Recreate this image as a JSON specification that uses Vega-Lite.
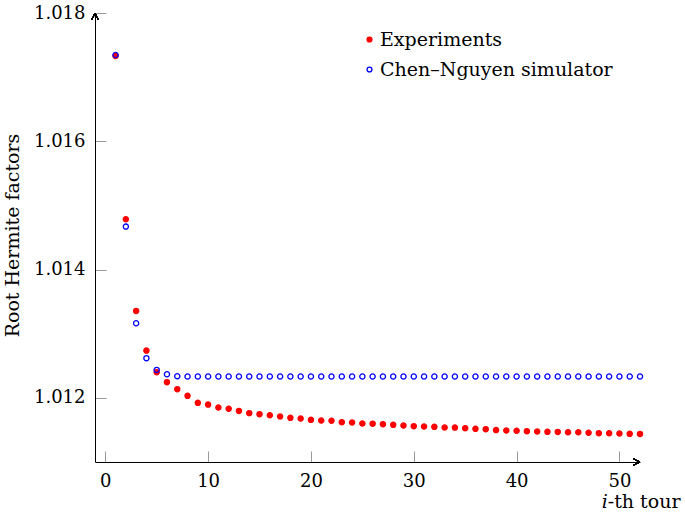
{
  "$schema": "https://vega.github.io/schema/vega-lite/v6.json",
  "width": 545,
  "height": 449,
  "autosize": "none",
  "padding": {"left": 95, "top": 13, "right": 45, "bottom": 53},
  "background": "white",
  "config": {
    "view": {"stroke": null},
    "font": "DejaVu Serif",
    "axis": {
      "labelFont": "DejaVu Serif",
      "titleFont": "DejaVu Serif",
      "labelColor": "black",
      "titleColor": "black",
      "titleFontWeight": "normal",
      "domainColor": "black",
      "domainWidth": 1,
      "tickColor": "#9a9a9a",
      "tickWidth": 1,
      "tickSize": -11,
      "grid": false
    },
    "legend": {
      "labelFont": "DejaVu Serif",
      "labelColor": "black"
    }
  },
  "data": {
    "values": [
      {"i": 1, "series": "Experiments", "v": 1.01733},
      {"i": 2, "series": "Experiments", "v": 1.014785},
      {"i": 3, "series": "Experiments", "v": 1.013356},
      {"i": 4, "series": "Experiments", "v": 1.012737},
      {"i": 5, "series": "Experiments", "v": 1.0124},
      {"i": 6, "series": "Experiments", "v": 1.012245},
      {"i": 7, "series": "Experiments", "v": 1.012136},
      {"i": 8, "series": "Experiments", "v": 1.012031},
      {"i": 9, "series": "Experiments", "v": 1.011922},
      {"i": 10, "series": "Experiments", "v": 1.011895},
      {"i": 11, "series": "Experiments", "v": 1.011849},
      {"i": 12, "series": "Experiments", "v": 1.011829},
      {"i": 13, "series": "Experiments", "v": 1.011797},
      {"i": 14, "series": "Experiments", "v": 1.011762},
      {"i": 15, "series": "Experiments", "v": 1.011746},
      {"i": 16, "series": "Experiments", "v": 1.01173},
      {"i": 17, "series": "Experiments", "v": 1.011709},
      {"i": 18, "series": "Experiments", "v": 1.011688},
      {"i": 19, "series": "Experiments", "v": 1.011677},
      {"i": 20, "series": "Experiments", "v": 1.011657},
      {"i": 21, "series": "Experiments", "v": 1.011646},
      {"i": 22, "series": "Experiments", "v": 1.011642},
      {"i": 23, "series": "Experiments", "v": 1.011621},
      {"i": 24, "series": "Experiments", "v": 1.011615},
      {"i": 25, "series": "Experiments", "v": 1.0116},
      {"i": 26, "series": "Experiments", "v": 1.011598},
      {"i": 27, "series": "Experiments", "v": 1.01159},
      {"i": 28, "series": "Experiments", "v": 1.011579},
      {"i": 29, "series": "Experiments", "v": 1.011568},
      {"i": 30, "series": "Experiments", "v": 1.011559},
      {"i": 31, "series": "Experiments", "v": 1.011553},
      {"i": 32, "series": "Experiments", "v": 1.011548},
      {"i": 33, "series": "Experiments", "v": 1.011538},
      {"i": 34, "series": "Experiments", "v": 1.011536},
      {"i": 35, "series": "Experiments", "v": 1.011528},
      {"i": 36, "series": "Experiments", "v": 1.011517},
      {"i": 37, "series": "Experiments", "v": 1.011512},
      {"i": 38, "series": "Experiments", "v": 1.011497},
      {"i": 39, "series": "Experiments", "v": 1.01149},
      {"i": 40, "series": "Experiments", "v": 1.011486},
      {"i": 41, "series": "Experiments", "v": 1.011481},
      {"i": 42, "series": "Experiments", "v": 1.011475},
      {"i": 43, "series": "Experiments", "v": 1.01147},
      {"i": 44, "series": "Experiments", "v": 1.011469},
      {"i": 45, "series": "Experiments", "v": 1.011465},
      {"i": 46, "series": "Experiments", "v": 1.011463},
      {"i": 47, "series": "Experiments", "v": 1.011455},
      {"i": 48, "series": "Experiments", "v": 1.01145},
      {"i": 49, "series": "Experiments", "v": 1.011449},
      {"i": 50, "series": "Experiments", "v": 1.011444},
      {"i": 51, "series": "Experiments", "v": 1.011439},
      {"i": 52, "series": "Experiments", "v": 1.011438},
      {"i": 1, "series": "Chen–Nguyen simulator", "v": 1.017345},
      {"i": 2, "series": "Chen–Nguyen simulator", "v": 1.01467},
      {"i": 3, "series": "Chen–Nguyen simulator", "v": 1.013164},
      {"i": 4, "series": "Chen–Nguyen simulator", "v": 1.012619},
      {"i": 5, "series": "Chen–Nguyen simulator", "v": 1.012436},
      {"i": 6, "series": "Chen–Nguyen simulator", "v": 1.012369},
      {"i": 7, "series": "Chen–Nguyen simulator", "v": 1.012338},
      {"i": 8, "series": "Chen–Nguyen simulator", "v": 1.012332},
      {"i": 9, "series": "Chen–Nguyen simulator", "v": 1.012332},
      {"i": 10, "series": "Chen–Nguyen simulator", "v": 1.012332},
      {"i": 11, "series": "Chen–Nguyen simulator", "v": 1.012332},
      {"i": 12, "series": "Chen–Nguyen simulator", "v": 1.012332},
      {"i": 13, "series": "Chen–Nguyen simulator", "v": 1.012332},
      {"i": 14, "series": "Chen–Nguyen simulator", "v": 1.012332},
      {"i": 15, "series": "Chen–Nguyen simulator", "v": 1.012332},
      {"i": 16, "series": "Chen–Nguyen simulator", "v": 1.012332},
      {"i": 17, "series": "Chen–Nguyen simulator", "v": 1.012332},
      {"i": 18, "series": "Chen–Nguyen simulator", "v": 1.012332},
      {"i": 19, "series": "Chen–Nguyen simulator", "v": 1.012332},
      {"i": 20, "series": "Chen–Nguyen simulator", "v": 1.012332},
      {"i": 21, "series": "Chen–Nguyen simulator", "v": 1.012332},
      {"i": 22, "series": "Chen–Nguyen simulator", "v": 1.012332},
      {"i": 23, "series": "Chen–Nguyen simulator", "v": 1.012332},
      {"i": 24, "series": "Chen–Nguyen simulator", "v": 1.012332},
      {"i": 25, "series": "Chen–Nguyen simulator", "v": 1.012332},
      {"i": 26, "series": "Chen–Nguyen simulator", "v": 1.012332},
      {"i": 27, "series": "Chen–Nguyen simulator", "v": 1.012332},
      {"i": 28, "series": "Chen–Nguyen simulator", "v": 1.012332},
      {"i": 29, "series": "Chen–Nguyen simulator", "v": 1.012332},
      {"i": 30, "series": "Chen–Nguyen simulator", "v": 1.012332},
      {"i": 31, "series": "Chen–Nguyen simulator", "v": 1.012332},
      {"i": 32, "series": "Chen–Nguyen simulator", "v": 1.012332},
      {"i": 33, "series": "Chen–Nguyen simulator", "v": 1.012332},
      {"i": 34, "series": "Chen–Nguyen simulator", "v": 1.012332},
      {"i": 35, "series": "Chen–Nguyen simulator", "v": 1.012332},
      {"i": 36, "series": "Chen–Nguyen simulator", "v": 1.012332},
      {"i": 37, "series": "Chen–Nguyen simulator", "v": 1.012332},
      {"i": 38, "series": "Chen–Nguyen simulator", "v": 1.012332},
      {"i": 39, "series": "Chen–Nguyen simulator", "v": 1.012332},
      {"i": 40, "series": "Chen–Nguyen simulator", "v": 1.012332},
      {"i": 41, "series": "Chen–Nguyen simulator", "v": 1.012332},
      {"i": 42, "series": "Chen–Nguyen simulator", "v": 1.012332},
      {"i": 43, "series": "Chen–Nguyen simulator", "v": 1.012332},
      {"i": 44, "series": "Chen–Nguyen simulator", "v": 1.012332},
      {"i": 45, "series": "Chen–Nguyen simulator", "v": 1.012332},
      {"i": 46, "series": "Chen–Nguyen simulator", "v": 1.012332},
      {"i": 47, "series": "Chen–Nguyen simulator", "v": 1.012332},
      {"i": 48, "series": "Chen–Nguyen simulator", "v": 1.012332},
      {"i": 49, "series": "Chen–Nguyen simulator", "v": 1.012332},
      {"i": 50, "series": "Chen–Nguyen simulator", "v": 1.012332},
      {"i": 51, "series": "Chen–Nguyen simulator", "v": 1.012332},
      {"i": 52, "series": "Chen–Nguyen simulator", "v": 1.012332}
    ]
  },
  "layer": [
    {
      "mark": {"type": "point", "shape": "circle", "size": 27, "strokeWidth": 1.3, "opacity": 1, "filled": true},
      "encoding": {
        "x": {
          "field": "i", "type": "quantitative",
          "scale": {"domain": [-1, 52], "nice": false, "zero": false},
          "axis": {
            "values": [0, 10, 20, 30, 40, 50],
            "labelFontSize": 18,
            "labelPadding": 21,
            "title": "𝑖-th tour",
            "titleFontSize": 19,
            "titleAlign": "right",
            "titleBaseline": "alphabetic",
            "titleX": 585,
            "titleY": 45
          }
        },
        "y": {
          "field": "v", "type": "quantitative",
          "scale": {"domain": [1.011, 1.018], "nice": false, "zero": false},
          "axis": {
            "values": [1.012, 1.014, 1.016, 1.018],
            "format": ".3f",
            "labelFontSize": 18,
            "labelPadding": 21,
            "title": "Root Hermite factors",
            "titleFontSize": 19,
            "titleAngle": -90,
            "titleAlign": "center",
            "titleBaseline": "alphabetic",
            "titleX": -77,
            "titleY": 222
          }
        },
        "fill": {
          "field": "series", "type": "nominal",
          "scale": {"domain": ["Experiments", "Chen–Nguyen simulator"], "range": ["#ff0000", "transparent"]},
          "legend": {
            "orient": "none",
            "legendX": 265,
            "legendY": 17,
            "title": null,
            "padding": 0,
            "labelFontSize": 19,
            "labelOffset": 1,
            "labelLimit": 0,
            "rowPadding": 10,
            "symbolSize": 24,
            "symbolStrokeWidth": 1.3,
            "symbolType": "circle"
          }
        },
        "stroke": {
          "field": "series", "type": "nominal",
          "scale": {"domain": ["Experiments", "Chen–Nguyen simulator"], "range": ["#ff0000", "#0000ff"]},
          "legend": {
            "orient": "none",
            "legendX": 265,
            "legendY": 17,
            "title": null,
            "padding": 0,
            "labelFontSize": 19,
            "labelOffset": 1,
            "labelLimit": 0,
            "rowPadding": 10,
            "symbolSize": 24,
            "symbolStrokeWidth": 1.3,
            "symbolType": "circle"
          }
        }
      }
    },
    {
      "mark": {"type": "point", "shape": "M-0.7,1.4 Q-0.2,0.6 0,0 Q0.2,0.6 0.7,1.4", "size": 100, "filled": false, "stroke": "black", "strokeWidth": 1, "opacity": 1},
      "encoding": {
        "x": {"datum": -1, "type": "quantitative"},
        "y": {"datum": 1.018, "type": "quantitative"}
      }
    },
    {
      "mark": {"type": "point", "shape": "M-1.4,-0.7 Q-0.6,-0.2 0,0 Q-0.6,0.2 -1.4,0.7", "size": 100, "filled": false, "stroke": "black", "strokeWidth": 1, "opacity": 1},
      "encoding": {
        "x": {"datum": 52, "type": "quantitative"},
        "y": {"datum": 1.011, "type": "quantitative"}
      }
    }
  ]
}
